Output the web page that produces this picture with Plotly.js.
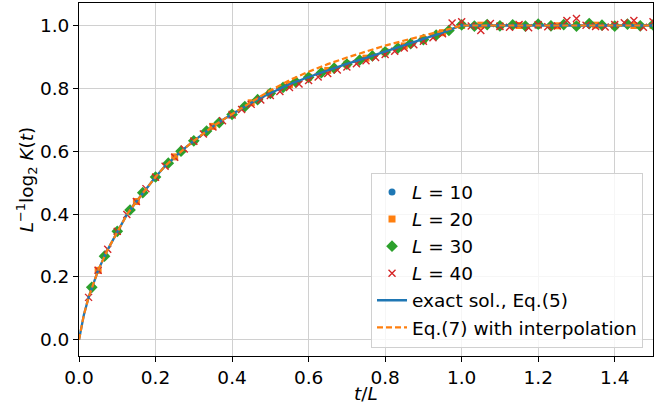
<!DOCTYPE html>
<html>
<head>
<meta charset="utf-8">
<script src="https://cdn.plot.ly/plotly-3.0.1.min.js"></script>
<style>html,body{margin:0;padding:0;background:#fff;}#chart{width:667px;height:404px;}</style>
</head>
<body>
<div id="chart"></div>
<script>
// L = 10, t = 1..15
const tL10 = [1,2,3,4,5,6,7,8,9,10,11,12,13,14,15];
const yL10 = [0.345,0.518,0.633,0.718,0.785,0.836,0.878,0.917,0.956,1.000,1.000,1.000,1.000,1.000,1.000];
// L = 20, t = 1..30
const tL20 = [1,2,3,4,5,6,7,8,9,10,11,12,13,14,15,16,17,18,19,20,21,22,23,24,25,26,27,28,29,30];
const yL20 = [0.221,0.345,0.440,0.518,0.582,0.633,0.679,0.718,0.754,0.785,0.812,0.835,0.857,0.877,0.896,0.916,0.935,0.955,0.977,1.000,
              1.001,0.999,1.000,1.002,0.999,1.000,1.001,0.999,1.000,1.000];
// L = 30, t = 1..45
const tL30 = [1,2,3,4,5,6,7,8,9,10,11,12,13,14,15,16,17,18,19,20,21,22,23,24,25,26,27,28,29,30,31,32,33,34,35,36,37,38,39,40,41,42,43,44,45];
const yL30 = [0.167,0.266,0.345,0.413,0.468,0.518,0.562,0.600,0.633,0.664,0.691,0.717,0.742,0.764,0.784,0.803,0.820,0.835,0.850,0.864,
              0.877,0.890,0.903,0.916,0.928,0.942,0.955,0.969,0.984,1.002,0.998,1.003,0.999,1.002,0.998,1.004,0.999,1.003,0.998,1.006,
              1.001,0.998,1.004,0.999,1.002];
// L = 40, t = 1..60
const tL40 = [1,2,3,4,5,6,7,8,9,10,11,12,13,14,15,16,17,18,19,20,21,22,23,24,25,26,27,28,29,30,31,32,33,34,35,36,37,38,39,40,
              41,42,43,44,45,46,47,48,49,50,51,52,53,54,55,56,57,58,59,60];
const yL40 = [0.135,0.221,0.288,0.345,0.399,0.440,0.481,0.517,0.552,0.581,0.607,0.632,0.655,0.677,0.697,0.715,0.733,0.749,0.763,0.777,
              0.790,0.803,0.814,0.825,0.836,0.847,0.858,0.868,0.878,0.888,0.898,0.908,0.918,0.928,0.939,0.950,0.961,0.974,1.008,1.012,
              0.998,0.984,1.006,0.997,0.994,1.003,0.993,1.002,0.996,0.998,1.016,1.022,1.001,0.997,0.995,1.003,1.009,1.016,0.994,1.012];
// exact solution, Eq.(5)
const xExact = [0,0.0125,0.025,0.0375,0.05,0.075,0.1,0.125,0.15,0.175,0.2,0.225,0.25,0.275,0.3,0.325,0.35,0.375,0.4,0.425,0.45,0.475,0.5,
                0.55,0.6,0.65,0.7,0.75,0.8,0.85,0.9,0.95,0.975,1.0,1.5];
const yExact = [0,0.078,0.135,0.180,0.221,0.287,0.345,0.398,0.440,0.480,0.518,0.553,0.582,0.608,0.633,0.657,0.679,0.699,0.718,0.737,0.754,0.770,0.785,
                0.813,0.836,0.858,0.878,0.897,0.917,0.936,0.956,0.977,0.989,1.000,1.000];
// Eq.(7) with interpolation
const xInterp = [0,0.0125,0.025,0.0375,0.05,0.075,0.1,0.125,0.15,0.175,0.2,0.225,0.25,0.275,0.3,0.325,0.35,0.375,0.4,0.425,0.45,0.475,0.5,
                 0.55,0.6,0.65,0.7,0.75,0.8,0.85,0.9,0.95,0.975,1.0,1.5];
const yInterp = [0,0.078,0.135,0.180,0.221,0.287,0.345,0.398,0.440,0.480,0.518,0.553,0.582,0.608,0.633,0.657,0.679,0.699,0.718,0.739,0.758,0.775,0.793,
                 0.826,0.853,0.877,0.898,0.917,0.936,0.952,0.967,0.983,0.991,1.000,1.000];

const names = ['<i>L</i> = 10','<i>L</i> = 20','<i>L</i> = 30','<i>L</i> = 40','exact sol., Eq.(5)','Eq.(7) with interpolation'];
const colors = ['#1f77b4','#ff7f0e','#2ca02c','#d62728'];

function scaled(t, L){ return t.map(v => v / L); }

const traces = [
  {x: scaled(tL10,10), y: yL10, mode:'markers', name: names[0], marker:{symbol:'circle', size:7, color:colors[0]}},
  {x: scaled(tL20,20), y: yL20, mode:'markers', name: names[1], marker:{symbol:'square', size:7, color:colors[1]}},
  {x: scaled(tL30,30), y: yL30, mode:'markers', name: names[2], marker:{symbol:'diamond', size:9, color:colors[2]}},
  {x: scaled(tL40,40), y: yL40, mode:'markers', name: names[3], marker:{symbol:'x-thin-open', size:7, color:colors[3], line:{color:colors[3], width:1.4}}},
  {x: xExact, y: yExact, mode:'lines', name: names[4], line:{color:colors[0], width:2.3}},
  {x: xInterp, y: yInterp, mode:'lines', name: names[5], line:{color:colors[1], width:2.2, dash:'6px,3px'}}
];

const font = {family:'DejaVu Sans, sans-serif', size:18.5, color:'#000'};
const layout = {
  width:667, height:404,
  margin:{l:79, r:14, t:3, b:48},
  paper_bgcolor:'#fff', plot_bgcolor:'#fff',
  font: font,
  showlegend:true,
  legend:{x:0.9826, y:0.024, xanchor:'right', yanchor:'bottom', bgcolor:'rgba(255,255,255,0.8)',
          bordercolor:'#d0d0d0', borderwidth:1, font:{family:'DejaVu Sans, sans-serif', size:18.5, color:'#000'},
          tracegroupgap:0},
  xaxis:{range:[0,1.5], tickvals:[0,0.2,0.4,0.6,0.8,1.0,1.2,1.4], ticktext:['0.0','0.2','0.4','0.6','0.8','1.0','1.2','1.4'],
         showgrid:true, gridcolor:'#d0d0d0', gridwidth:1, zeroline:false,
         showline:true, linecolor:'#000', linewidth:1, mirror:true, ticks:'outside', ticklen:5, tickcolor:'#000',
         tickfont:font, title:{text:'<i>t</i>/<i>L</i>', font:font, standoff:6}},
  yaxis:{range:[-0.0515,1.0715], tickvals:[0,0.2,0.4,0.6,0.8,1.0], ticktext:['0.0','0.2','0.4','0.6','0.8','1.0'],
         showgrid:true, gridcolor:'#d0d0d0', gridwidth:1, zeroline:false,
         showline:true, linecolor:'#000', linewidth:1, mirror:true, ticks:'outside', ticklen:5, tickcolor:'#000',
         tickfont:font, title:{text:'<i>L</i><sup>−1</sup>log<sub>2</sub> <i>K</i>(<i>t</i>)', font:font, standoff:1}}
};
Plotly.newPlot('chart', traces, layout, {displayModeBar:false, staticPlot:true});
</script>
</body>
</html>
